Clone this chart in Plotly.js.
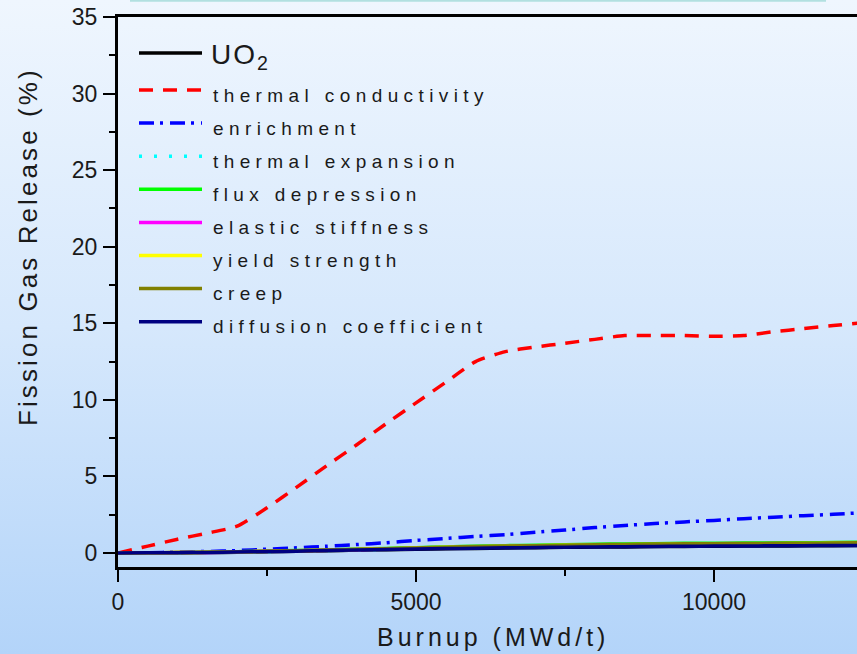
<!DOCTYPE html>
<html>
<head>
<meta charset="utf-8">
<script src="https://cdn.plot.ly/plotly-3.0.1.min.js"></script>
<style>
  html, body { margin: 0; padding: 0; }
  body {
    width: 857px; height: 654px; overflow: hidden;
    background: linear-gradient(to bottom, #eff6fe 0%, #d6e8fc 50%, #b3d4f9 100%);
  }
  #chart { width: 857px; height: 654px; }
  /* widely tracked lettering for the key and axis titles */
  text.annotation-text[style*="19px"] { letter-spacing: 5.4px; }
  text.annotation-text[style*="28px"] { letter-spacing: 2px; }
  text.annotation-text[style*="25px"] { letter-spacing: 4px; }
  text.annotation-text[style*="26px"] { letter-spacing: 3.1px; }
</style>
</head>
<body>
<div id="chart"></div>
<script>
// Burnup grid (MWd/t)
const burnup = [0, 500, 1000, 1500, 2000, 2500, 3000, 3500, 4000, 4500, 5000, 5500, 6000,
                6500, 7000, 7500, 8000, 8500, 9000, 9500, 10000, 10500, 11000, 11500, 12000, 12500];

// Fission gas release (%) for the reference UO2 case and each perturbed parameter
const fgrUO2 = [0, 0.01, 0.02, 0.03, 0.05, 0.08, 0.11, 0.15, 0.19, 0.22, 0.25, 0.28, 0.30,
                0.33, 0.35, 0.37, 0.39, 0.40, 0.42, 0.43, 0.44, 0.45, 0.46, 0.47, 0.48, 0.49];
const fgrThermalConductivity = [0, 0.45, 0.9, 1.3, 1.75, 2.95, 4.3, 5.7, 7.05, 8.45, 9.8, 11.15, 12.5,
                13.15, 13.45, 13.7, 13.95, 14.2, 14.2, 14.2, 14.15, 14.2, 14.45, 14.65, 14.85, 15.05];
const fgrEnrichment = [0, 0.02, 0.06, 0.1, 0.16, 0.25, 0.34, 0.44, 0.55, 0.67, 0.82, 0.95, 1.08,
                1.2, 1.36, 1.5, 1.66, 1.8, 1.92, 2.03, 2.13, 2.24, 2.34, 2.44, 2.53, 2.63];
const fgrThermalExpansion = [0, 0.01, 0.02, 0.04, 0.07, 0.1, 0.14, 0.17, 0.21, 0.25, 0.3, 0.34, 0.37,
                0.41, 0.43, 0.46, 0.48, 0.5, 0.52, 0.54, 0.54, 0.55, 0.56, 0.57, 0.58, 0.6];
const fgrFluxDepression = [0, 0.01, 0.03, 0.05, 0.08, 0.12, 0.16, 0.2, 0.25, 0.3, 0.35, 0.4, 0.44,
                0.48, 0.51, 0.54, 0.57, 0.59, 0.61, 0.63, 0.64, 0.65, 0.66, 0.67, 0.68, 0.7];
const fgrElasticStiffness = [0, 0.01, 0.03, 0.04, 0.07, 0.11, 0.14, 0.18, 0.22, 0.26, 0.31, 0.35, 0.39,
                0.42, 0.45, 0.48, 0.5, 0.52, 0.54, 0.55, 0.56, 0.57, 0.58, 0.59, 0.6, 0.62];
const fgrYieldStrength = [0, 0.01, 0.03, 0.05, 0.07, 0.11, 0.15, 0.18, 0.23, 0.28, 0.32, 0.37, 0.4,
                0.44, 0.47, 0.5, 0.52, 0.54, 0.56, 0.58, 0.59, 0.6, 0.61, 0.62, 0.63, 0.64];
const fgrCreep = [0, 0.01, 0.03, 0.05, 0.08, 0.11, 0.15, 0.19, 0.24, 0.28, 0.33, 0.38, 0.42,
                0.46, 0.48, 0.51, 0.54, 0.56, 0.58, 0.6, 0.61, 0.62, 0.63, 0.64, 0.65, 0.67];
const fgrDiffusionCoefficient = [0, 0.01, 0.02, 0.04, 0.06, 0.09, 0.12, 0.16, 0.2, 0.23, 0.26, 0.29, 0.31,
                0.34, 0.36, 0.38, 0.4, 0.41, 0.43, 0.44, 0.45, 0.46, 0.47, 0.48, 0.49, 0.5];

const seriesNames = ['UO<sub>2</sub>', 'thermal conductivity', 'enrichment', 'thermal expansion',
                     'flux depression', 'elastic stiffness', 'yield strength', 'creep', 'diffusion coefficient'];
const seriesValues = [fgrUO2, fgrThermalConductivity, fgrEnrichment, fgrThermalExpansion,
                      fgrFluxDepression, fgrElasticStiffness, fgrYieldStrength, fgrCreep, fgrDiffusionCoefficient];

// line styles per series
const seriesColors = ['#000000', '#ff0000', '#0000ff', '#00ffff', '#00ff00', '#ff00ff', '#ffff00', '#808000', '#000080'];
const seriesDash = ['solid', '14px,10px', '15px,6px,3px,7px', '3px,12px', 'solid', 'solid', 'solid', 'solid', 'solid'];

const labelFont = "'Liberation Sans', Arial, sans-serif";

// plot box in pixels (used to place the key and titles in paper units)
const W = 857, H = 654, L = 118, T = 17, B = 87, R = 0;
const pw = W - L - R, ph = H - T - B;
const px2x = p => (p - L) / pw;
const px2y = p => (H - B - p) / ph;

const traces = seriesNames.map((name, i) => ({
  type: 'scatter', mode: 'lines', name: name,
  x: burnup, y: seriesValues[i],
  line: { color: seriesColors[i], width: 3.5, dash: seriesDash[i], shape: 'spline', smoothing: 0.6 },
  showlegend: false, hoverinfo: 'skip'
}));

// hand-placed key: sample line + label for every series
const shapes = [];
const annotations = [];
const rowY = [53, 90, 123.1, 156.2, 189.3, 222.4, 255.5, 288.6, 321.7];
seriesNames.forEach((name, i) => {
  const y = rowY[i];
  shapes.push({
    type: 'line', xref: 'paper', yref: 'paper', layer: 'above',
    x0: px2x(139), x1: px2x(202), y0: px2y(y), y1: px2y(y),
    line: { color: seriesColors[i], width: 3.5, dash: seriesDash[i] }
  });
  annotations.push({
    xref: 'paper', yref: 'paper', showarrow: false,
    x: px2x(i === 0 ? 209 : 211), y: px2y(y + (i === 0 ? 3 : 5)),
    xanchor: 'left', yanchor: 'middle', text: name,
    font: { family: labelFont, size: i === 0 ? 28 : 19, color: '#1a1a1a' }
  });
});

// thin teal rule along the very top edge
shapes.push({
  type: 'line', xref: 'paper', yref: 'paper', layer: 'above',
  x0: px2x(130), x1: px2x(826), y0: px2y(0.8), y1: px2y(0.8),
  line: { color: '#b2e0e0', width: 2 }
});

annotations.push({
  xref: 'paper', yref: 'paper', showarrow: false, textangle: -90,
  x: px2x(28), y: px2y(247), xanchor: 'center', yanchor: 'middle',
  text: 'Fission Gas Release (%)',
  font: { family: labelFont, size: 26, color: '#1a1a1a' }
});
annotations.push({
  xref: 'paper', yref: 'paper', showarrow: false,
  x: px2x(493), y: px2y(637), xanchor: 'center', yanchor: 'middle',
  text: 'Burnup (MWd/t)',
  font: { family: labelFont, size: 25, color: '#1a1a1a' }
});

const layout = {
  width: W, height: H,
  margin: { l: L, r: R, t: T, b: B, pad: 0 },
  paper_bgcolor: 'rgba(0,0,0,0)',
  plot_bgcolor: 'rgba(0,0,0,0)',
  showlegend: false,
  xaxis: {
    range: [0, 12399], tick0: 0, dtick: 5000, tickformat: 'd',
    showline: true, linecolor: '#000', linewidth: 3, mirror: true,
    ticks: 'outside', ticklen: 12, tickwidth: 2, tickcolor: '#000',
    minor: { dtick: 2500, ticks: 'outside', ticklen: 6, tickwidth: 2, tickcolor: '#000' },
    showgrid: false, zeroline: false,
    tickfont: { family: labelFont, size: 23, color: '#1a1a1a' },
    ticklabelstandoff: 0
  },
  yaxis: {
    range: [-0.914, 35], tick0: 0, dtick: 5,
    showline: true, linecolor: '#000', linewidth: 3,
    ticks: 'outside', ticklen: 12, tickwidth: 2, tickcolor: '#000',
    minor: { dtick: 2.5, ticks: 'outside', ticklen: 6, tickwidth: 2, tickcolor: '#000' },
    showgrid: false, zeroline: false,
    tickfont: { family: labelFont, size: 23, color: '#1a1a1a' },
    ticklabelstandoff: 1
  },
  shapes: shapes,
  annotations: annotations
};

Plotly.newPlot('chart', traces, layout, { staticPlot: true, displayModeBar: false });
</script>
</body>
</html>
